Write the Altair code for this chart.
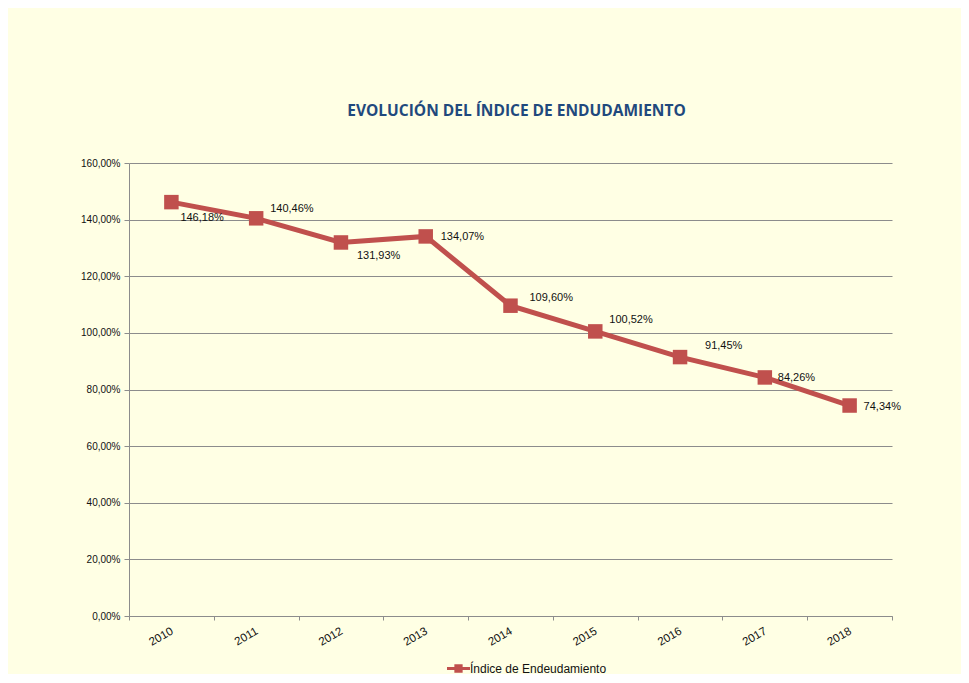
import altair as alt
import pandas as pd

# ---- data ----
years = [2010, 2011, 2012, 2013, 2014, 2015, 2016, 2017, 2018]
values = [146.18, 140.46, 131.93, 134.07, 109.60, 100.52, 91.45, 84.26, 74.34]
series_name = "Índice de Endeudamiento"
y_ticks = [0, 20, 40, 60, 80, 100, 120, 140, 160]
title_text = "EVOLUCIÓN DEL ÍNDICE DE ENDUDAMIENTO"

# category boundaries for the x axis ticks (between the years)
x_bounds = [y - 0.5 for y in years] + [years[-1] + 0.5]

# ---- styling: data-label offsets (pixels, relative to each point) ----
label_dx = {2010: 9, 2011: 14, 2012: 16, 2013: 15, 2014: 19,
            2015: 14, 2016: 25, 2017: 13, 2018: 14}
label_dy = {2010: 16, 2011: -9, 2012: 14, 2013: 1, 2014: -8,
            2015: -11, 2016: -11, 2017: 1, 2018: 1}

RED = "#C0504D"
BG = "#FFFFE4"
GRID = "#8C8C8C"
FONT = "Liberation Sans"

df = pd.DataFrame({"year": years, "value": values})
df["label"] = [f"{v:.2f}".replace(".", ",") + "%" for v in values]
df["serie"] = series_name
df["ldx"] = df["year"].map(label_dx)
df["ldy"] = df["year"].map(label_dy)

last = years[-1]
x_enc = alt.X(
    "year:Q",
    scale=alt.Scale(domain=[x_bounds[0], x_bounds[-1]], nice=False, zero=False),
    axis=alt.Axis(
        title=None, values=x_bounds,
        labelExpr=f"datum.value < {last} ? toString(datum.value + 0.5) : ''",
        labelAngle=-30, labelAlign="right", labelBaseline="top",
        labelOffset=40, tickSize=4, labelPadding=5, labelFlush=False,
        labelOverlap=False, domainColor=GRID, tickColor=GRID,
        labelFont=FONT, labelFontSize=11.5, labelColor="#111", grid=False,
    ),
)
y_enc = alt.Y(
    "value:Q",
    scale=alt.Scale(domain=[0, 160], nice=False),
    axis=alt.Axis(
        title=None, values=y_ticks,
        labelExpr="replace(format(datum.value, '.2f'), '.', ',') + '%'",
        grid=True, gridColor=GRID, gridWidth=1, tickSize=5, labelPadding=4,
        domainColor=GRID, tickColor=GRID, labelFont=FONT, labelFontSize=10,
        labelColor="#111",
    ),
)

base = alt.Chart(df).encode(x=x_enc, y=y_enc)

line = base.mark_line(color=RED, strokeWidth=5)

legend_symbol = "M-1,-0.12H1V0.12H-1Z M-0.36,-0.36H0.36V0.36H-0.36Z"
points = base.mark_point(shape="square", filled=True, size=210, opacity=1).encode(
    color=alt.Color(
        "serie:N",
        scale=alt.Scale(range=[RED]),
        legend=alt.Legend(
            title=None, orient="none", legendX=318, legendY=494,
            symbolType=legend_symbol, symbolSize=529, symbolStrokeWidth=0,
            symbolFillColor=RED, labelFont=FONT, labelFontSize=12,
            labelColor="#111", labelOffset=0,
        ),
    )
)

labels = base.mark_text(
    align="left", baseline="middle", font=FONT, fontSize=11, color="#111",
    dx=alt.expr("datum.ldx"), dy=alt.expr("datum.ldy"),
).encode(text="label:N")

chart = (
    alt.layer(line, points, labels)
    .properties(
        width=763, height=453,
        autosize=alt.AutoSizeParams(type="none"),
        padding={"left": 121, "top": 155, "right": 69, "bottom": 58},
        background=BG,
        title=alt.TitleParams(
            title_text, font="Open Sans", fontSize=15.5, fontWeight="bold",
            color="#1F497D", anchor="middle", frame="group", offset=39, dx=6,
        ),
    )
    .configure_view(stroke=None)
)

chart.save("out.html", embed_options={"renderer": "svg", "actions": False})
